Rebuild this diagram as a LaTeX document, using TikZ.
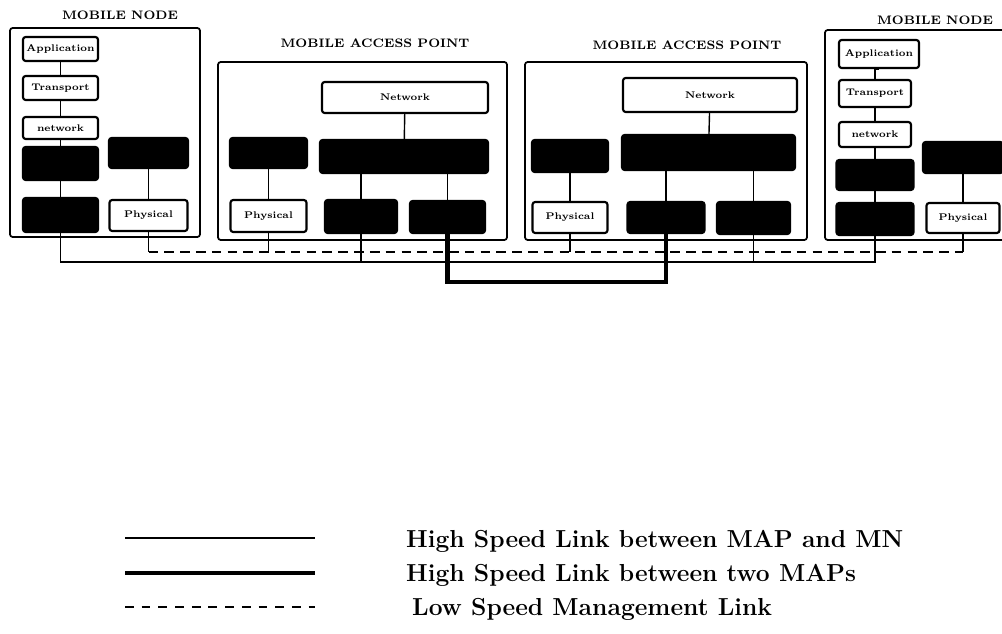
\documentclass[tikz,border=0pt]{standalone}
\usepackage{xcolor}
\usepackage{tikz}
\usetikzlibrary{shapes,arrows,positioning,calc}

\begin{document}
\begin{tikzpicture}[
    x=0.02cm, y=-0.02cm,
    frame/.style={draw, line width=1pt, rounded corners=1.5pt, inner sep=0pt},
    layer/.style={draw, line width=1.2pt, rounded corners=1.5pt, inner sep=0pt, fill=white, font=\fontsize{5.5}{6}\selectfont\bfseries},
    dark/.style={layer, fill=black},
    title/.style={font=\fontsize{7}{8}\selectfont\bfseries},
    wire/.style={line width=0.8pt},
    hslink/.style={line width=0.9pt},
    mmlink/.style={line width=2.6pt},
    lslink/.style={line width=1.1pt, dash pattern=on 5.5pt off 3.5pt},
    legend/.style={anchor=west, font=\fontsize{14}{16}\selectfont\bfseries}
]
\useasboundingbox (0,0) rectangle (1002,634);
\clip (0,0) rectangle (1002,634);

% Link levels
\coordinate (busD) at (0,252);
\coordinate (busS) at (0,262);
\coordinate (busT) at (0,282);

% Mobile node (left)
\node[frame, minimum width=3.8cm, minimum height=4.18cm] (mn1) at (105,132.5) {};
\node[title] (mn1t) at (120,15) {MOBILE NODE};
\node[layer, minimum width=1.5cm, minimum height=0.48cm] (app1) at (60.5,49) {Application};
\node[layer, minimum width=1.5cm, minimum height=0.48cm] (trn1) at (60.5,88) {Transport};
\node[layer, minimum width=1.5cm, minimum height=0.44cm] (net1) at (60.5,128) {network};
\node[dark, minimum width=1.5cm, minimum height=0.66cm] (ada1) at (60.5,163.5) {};
\node[dark, minimum width=1.5cm, minimum height=0.68cm] (mac1) at (60.5,215) {};
\node[dark, minimum width=1.58cm, minimum height=0.6cm] (rb1) at (148.5,153) {};
\node[layer, minimum width=1.56cm, minimum height=0.62cm] (phy1) at (148.5,215.5) {Physical};
\draw[wire] (app1) -- (trn1);
\draw[wire] (trn1) -- (net1);
\draw[wire] (net1) -- (ada1);
\draw[wire] (ada1) -- (mac1);
\draw[wire] (rb1) -- (phy1);

% Mobile access point (first)
\node[frame, minimum width=5.78cm, minimum height=3.56cm] (map1) at (362.5,151) {};
\node[title] (map1t) at (375,43) {MOBILE ACCESS POINT};
\node[layer, minimum width=3.32cm, minimum height=0.62cm] (netA) at (405,97.5) {Network};
\node[dark, minimum width=1.54cm, minimum height=0.6cm] (lbA) at (268.5,153) {};
\node[dark, minimum width=3.36cm, minimum height=0.66cm] (bbA) at (404,156.5) {};
\node[layer, minimum width=1.52cm, minimum height=0.64cm] (phyA) at (268.5,216) {Physical};
\node[dark, minimum width=1.44cm, minimum height=0.66cm] (bmA) at (361,216.5) {};
\node[dark, minimum width=1.5cm, minimum height=0.64cm] (brA) at (447.5,217) {};
\draw[wire] (netA) -- (bbA);
\draw[wire] (lbA) -- (phyA);
\draw[wire] (bmA.north) -- (bmA.north |- bbA.south);
\draw[wire] (brA.north) -- (brA.north |- bbA.south);

% Mobile access point (second)
\node[frame, minimum width=5.64cm, minimum height=3.56cm] (map2) at (666,151) {};
\node[title] (map2t) at (687,45) {MOBILE ACCESS POINT};
\node[layer, minimum width=3.48cm, minimum height=0.68cm] (netB) at (710,95) {Network};
\node[dark, minimum width=1.52cm, minimum height=0.64cm] (lbB) at (570,156) {};
\node[dark, minimum width=3.46cm, minimum height=0.7cm] (bbB) at (708.5,152.5) {};
\node[layer, minimum width=1.5cm, minimum height=0.62cm] (phyB) at (570,217.5) {Physical};
\node[dark, minimum width=1.54cm, minimum height=0.62cm] (bmB) at (666,217.5) {};
\node[dark, minimum width=1.46cm, minimum height=0.64cm] (brB) at (753.5,218) {};
\draw[wire] (netB) -- (bbB);
\draw[wire] (lbB) -- (phyB);
\draw[wire] (bmB.north) -- (bmB.north |- bbB.south);
\draw[wire] (brB.north) -- (brB.north |- bbB.south);

% Mobile node (right)
\node[frame, minimum width=3.7cm, minimum height=4.2cm] (mn2) at (917.5,135) {};
\node[title] (mn2t) at (935,20) {MOBILE NODE};
\node[layer, minimum width=1.6cm, minimum height=0.56cm] (app2) at (879,54) {Application};
\node[layer, minimum width=1.44cm, minimum height=0.54cm] (trn2) at (875,93.5) {Transport};
\node[layer, minimum width=1.44cm, minimum height=0.5cm] (net2) at (875,134.5) {network};
\node[dark, minimum width=1.54cm, minimum height=0.6cm] (ada2) at (875,175) {};
\node[dark, minimum width=1.54cm, minimum height=0.64cm] (mac2) at (875,219) {};
\node[dark, minimum width=1.6cm, minimum height=0.62cm] (rb2) at (963,157.5) {};
\node[layer, minimum width=1.46cm, minimum height=0.6cm] (phy2) at (963,218) {Physical};
\draw[wire] (app2.south) -- (app2.south -| trn2) -- (trn2);
\draw[wire] (trn2) -- (net2);
\draw[wire] (net2) -- (ada2);
\draw[wire] (ada2) -- (mac2);
\draw[wire] (rb2) -- (phy2);

% Low speed management link
\foreach \p in {phy1,phyA,phyB,phy2}
    \draw[wire] (\p.south) -- (\p.south |- busD);
\draw[lslink] (phy1.south |- busD) -- (phy2.south |- busD);

% High speed links MAP - MN
\draw[hslink] (mac1.south) |- (busS -| mac2.south) -- (mac2.south);
\draw[hslink] (bmA.south) -- (bmA.south |- busS);
\draw[hslink] (brB.south) -- (brB.south |- busS);

% High speed link between the MAPs
\draw[mmlink] (brA.south) |- (busT -| bmB.south) -- (bmB.south);

% Legend
\coordinate (k1a) at (125,538); \coordinate (k1b) at (315,538);
\coordinate (k2a) at (125,573); \coordinate (k2b) at (315,573);
\coordinate (k3a) at (125,607); \coordinate (k3b) at (315,607);
\draw[line width=1.5pt] (k1a) -- (k1b);
\draw[line width=2.6pt] (k2a) -- (k2b);
\draw[line width=1.2pt, dash pattern=on 5pt off 4.5pt] (k3a) -- (k3b);
\node[legend] (t1) at (400,541) {High Speed Link between MAP and MN};
\node[legend] (t2) at (400,575) {High Speed Link between two MAPs};
\node[legend] (t3) at (406,609) {Low Speed Management Link};

\end{tikzpicture}
\end{document}
